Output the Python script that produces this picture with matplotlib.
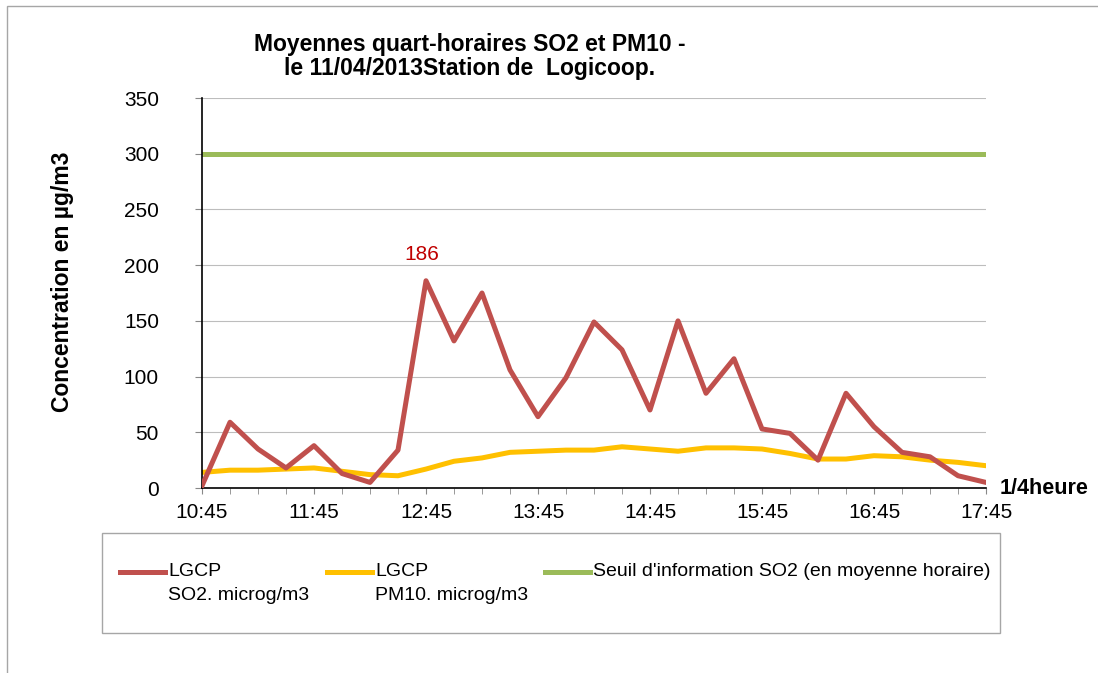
#! /usr/bin/env python3

import matplotlib.pyplot as plt
from matplotlib.lines import Line2D
from matplotlib.patches import Rectangle

plt.rcParams['font.family'] = ['Liberation Sans', 'DejaVu Sans']

# quarter-hour stamps, 10:45 -> 17:45
times = ['10:45', '11:00', '11:15', '11:30', '11:45', '12:00', '12:15', '12:30',
         '12:45', '13:00', '13:15', '13:30', '13:45', '14:00', '14:15', '14:30',
         '14:45', '15:00', '15:15', '15:30', '15:45', '16:00', '16:15', '16:30',
         '16:45', '17:00', '17:15', '17:30', '17:45']
so2 = [2, 59, 35, 18, 38, 13, 5, 34, 186, 132, 175, 106, 64, 99, 149, 124,
       70, 150, 85, 116, 53, 49, 25, 85, 55, 32, 28, 11, 5]
pm10 = [14, 16, 16, 17, 18, 15, 12, 11, 17, 24, 27, 32, 33, 34, 34, 37,
        35, 33, 36, 36, 35, 31, 26, 26, 29, 28, 25, 23, 20]
seuil = [300] * len(times)

labels = ['LGCP\nSO2. microg/m3', 'LGCP\nPM10. microg/m3',
          "Seuil d'information SO2 (en moyenne horaire)"]
colors = ['#C0504D', '#FFC000', '#9BBB59']

W, H = 1098, 673
fig = plt.figure(figsize=(W / 100, H / 100), dpi=100)
ax = fig.add_axes([202 / W, 1 - 488 / H, 784 / W, 390 / H])

x = range(len(times))
ax.plot(x, so2, color=colors[0], lw=3.6, zorder=3)
ax.plot(x, pm10, color=colors[1], lw=3.6, zorder=2)
ax.plot(x, seuil, color=colors[2], lw=3.6, zorder=2)

peak = so2.index(max(so2))
ax.annotate(str(max(so2)), (peak, so2[peak]), xytext=(-3, 12),
            textcoords='offset points', ha='center', va='bottom',
            color='#C00000', fontsize=15)

ax.set_xlim(0, len(times) - 1)
ax.set_ylim(0, 350)
ax.set_yticks(range(0, 351, 50))
ax.set_xticks(range(0, len(times), 4))
ax.set_xticklabels(times[::4])
ax.set_xticks(range(len(times)), minor=True)

ax.grid(axis='y', color='#BDBDBD', lw=0.8)
ax.set_axisbelow(True)
for s in ['top', 'right']:
    ax.spines[s].set_visible(False)
for s in ['left', 'bottom']:
    ax.spines[s].set_linewidth(1.2)
ax.tick_params(axis='y', direction='out', length=5, color='#888888',
               labelsize=15, pad=26)
ax.tick_params(axis='x', which='both', direction='out', length=4,
               color='#888888', labelsize=15, pad=7)

ax.set_ylabel('Concentration en µg/m3', fontsize=16.5, fontweight='bold')
ax.yaxis.set_label_coords(-128 / 784, 0.53)
fig.text(1000 / W, 1 - 488 / H, '1/4heure', fontsize=15.5, fontweight='bold',
         va='center', ha='left')
fig.text(470 / W, 1 - 45 / H, 'Moyennes quart-horaires SO2 et PM10 -',
         fontsize=16.5, fontweight='bold', ha='center', va='center')
fig.text(470 / W, 1 - 69 / H, 'le 11/04/2013Station de  Logicoop.',
         fontsize=16.5, fontweight='bold', ha='center', va='center')

# legend drawn by hand: handle next to the first line of each label
legend_x = [120, 327, 545]
for lx, lab, c in zip(legend_x, labels, colors):
    fig.add_artist(Line2D([lx / W, (lx + 45) / W], [1 - 572 / H] * 2,
                          color=c, lw=3.6, transform=fig.transFigure))
    for i, line in enumerate(lab.split('\n')):
        fig.text((lx + 48) / W, 1 - (572 + 23 * i) / H, line, fontsize=14,
                 ha='left', va='center')

fig.add_artist(Rectangle((102 / W, 1 - 633 / H), 898 / W, 100 / H,
                         transform=fig.transFigure, fill=False,
                         edgecolor='#A6A6A6', lw=1))
fig.add_artist(Rectangle((7 / W, -0.1), 1.2, 1.1 - 6 / H,
                         transform=fig.transFigure, fill=False,
                         edgecolor='#A6A6A6', lw=1))

fig.savefig('out.png', dpi=100)
